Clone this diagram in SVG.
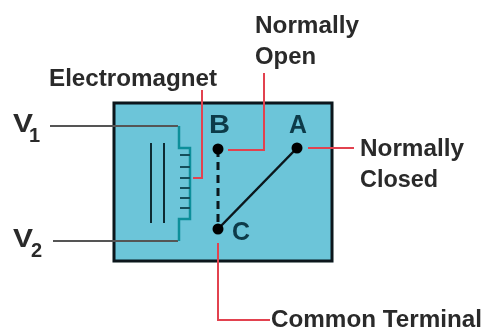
<svg xmlns="http://www.w3.org/2000/svg" width="486" height="331" viewBox="0 0 486 331">
<style>
text{font-family:"Liberation Sans",Arial,sans-serif;font-weight:bold;fill:#2a2a2a;font-size:23px}
.k{fill:#0d3a48;font-size:25px}
.r{fill:none;stroke:#e2434f;stroke-width:2}
.g{fill:none;stroke:#555;stroke-width:2}
.t{fill:none;stroke:#0f8f9a;stroke-width:2.5}
.m{fill:none;stroke:#14505c;stroke-width:2}
.d{fill:none;stroke:#0b2a33;stroke-width:2}
.p{fill:#050505}
</style>
<defs><filter id="soft" x="-5%" y="-5%" width="110%" height="110%"><feGaussianBlur stdDeviation="0.6"/></filter></defs>
<rect width="486" height="331" fill="#fff"/>
<g filter="url(#soft)">
<g id="relay-body"><rect x="114" y="103" width="218" height="158" fill="#6cc5d9" stroke="#07171c" stroke-width="3"/></g>
<g id="connectors">
<path class="g" d="M50 126H178M53 241H178"/>
<path class="t" d="M179 126V148H190V219H179V241"/>
<path class="m" d="M180 155H190M180 167H190M180 178H190M180 188H190M180 198H190M180 208H190"/>
<path class="d" d="M151 143V223M164 143V223"/>
<path class="r" d="M202 90V178H193"/>
<path class="r" d="M264 73V150H228"/>
<path class="r" d="M308 148H354"/>
<path class="r" d="M218 243V320H270"/>
<path d="M218 149V229" fill="none" stroke="#07171c" stroke-width="3" stroke-dasharray="8 5"/>
<path d="M218 229L297 148" fill="none" stroke="#07171c" stroke-width="2.5"/>
</g>
<g id="terminal-b"><circle class="p" cx="218" cy="149" r="5.5"/><text class="k" x="209" y="133" textLength="21" lengthAdjust="spacingAndGlyphs">B</text></g>
<g id="terminal-a"><circle class="p" cx="297" cy="148" r="5.5"/><text class="k" x="289" y="133" textLength="18" lengthAdjust="spacingAndGlyphs">A</text></g>
<g id="terminal-c"><circle class="p" cx="218" cy="229" r="5.5"/><text class="k" x="232" y="240" textLength="18" lengthAdjust="spacingAndGlyphs">C</text></g>
<g id="v1"><text x="13" y="132" style="font-size:26px" textLength="20" lengthAdjust="spacingAndGlyphs">V</text><text x="29" y="142" style="font-size:20px">1</text></g>
<g id="v2"><text x="13" y="247" style="font-size:26px" textLength="20" lengthAdjust="spacingAndGlyphs">V</text><text x="31" y="257" style="font-size:20px">2</text></g>
<g id="electromagnet"><text x="49" y="86" textLength="168" lengthAdjust="spacingAndGlyphs">Electromagnet</text></g>
<g id="normally-open"><text x="255" y="33" textLength="104" lengthAdjust="spacingAndGlyphs">Normally</text><text x="255" y="64" textLength="61" lengthAdjust="spacingAndGlyphs">Open</text></g>
<g id="normally-closed"><text x="360" y="156" textLength="104" lengthAdjust="spacingAndGlyphs">Normally</text><text x="360" y="187" textLength="78" lengthAdjust="spacingAndGlyphs">Closed</text></g>
<g id="common-terminal"><text x="271" y="327" textLength="211" lengthAdjust="spacingAndGlyphs">Common Terminal</text></g>
</g>
</svg>
